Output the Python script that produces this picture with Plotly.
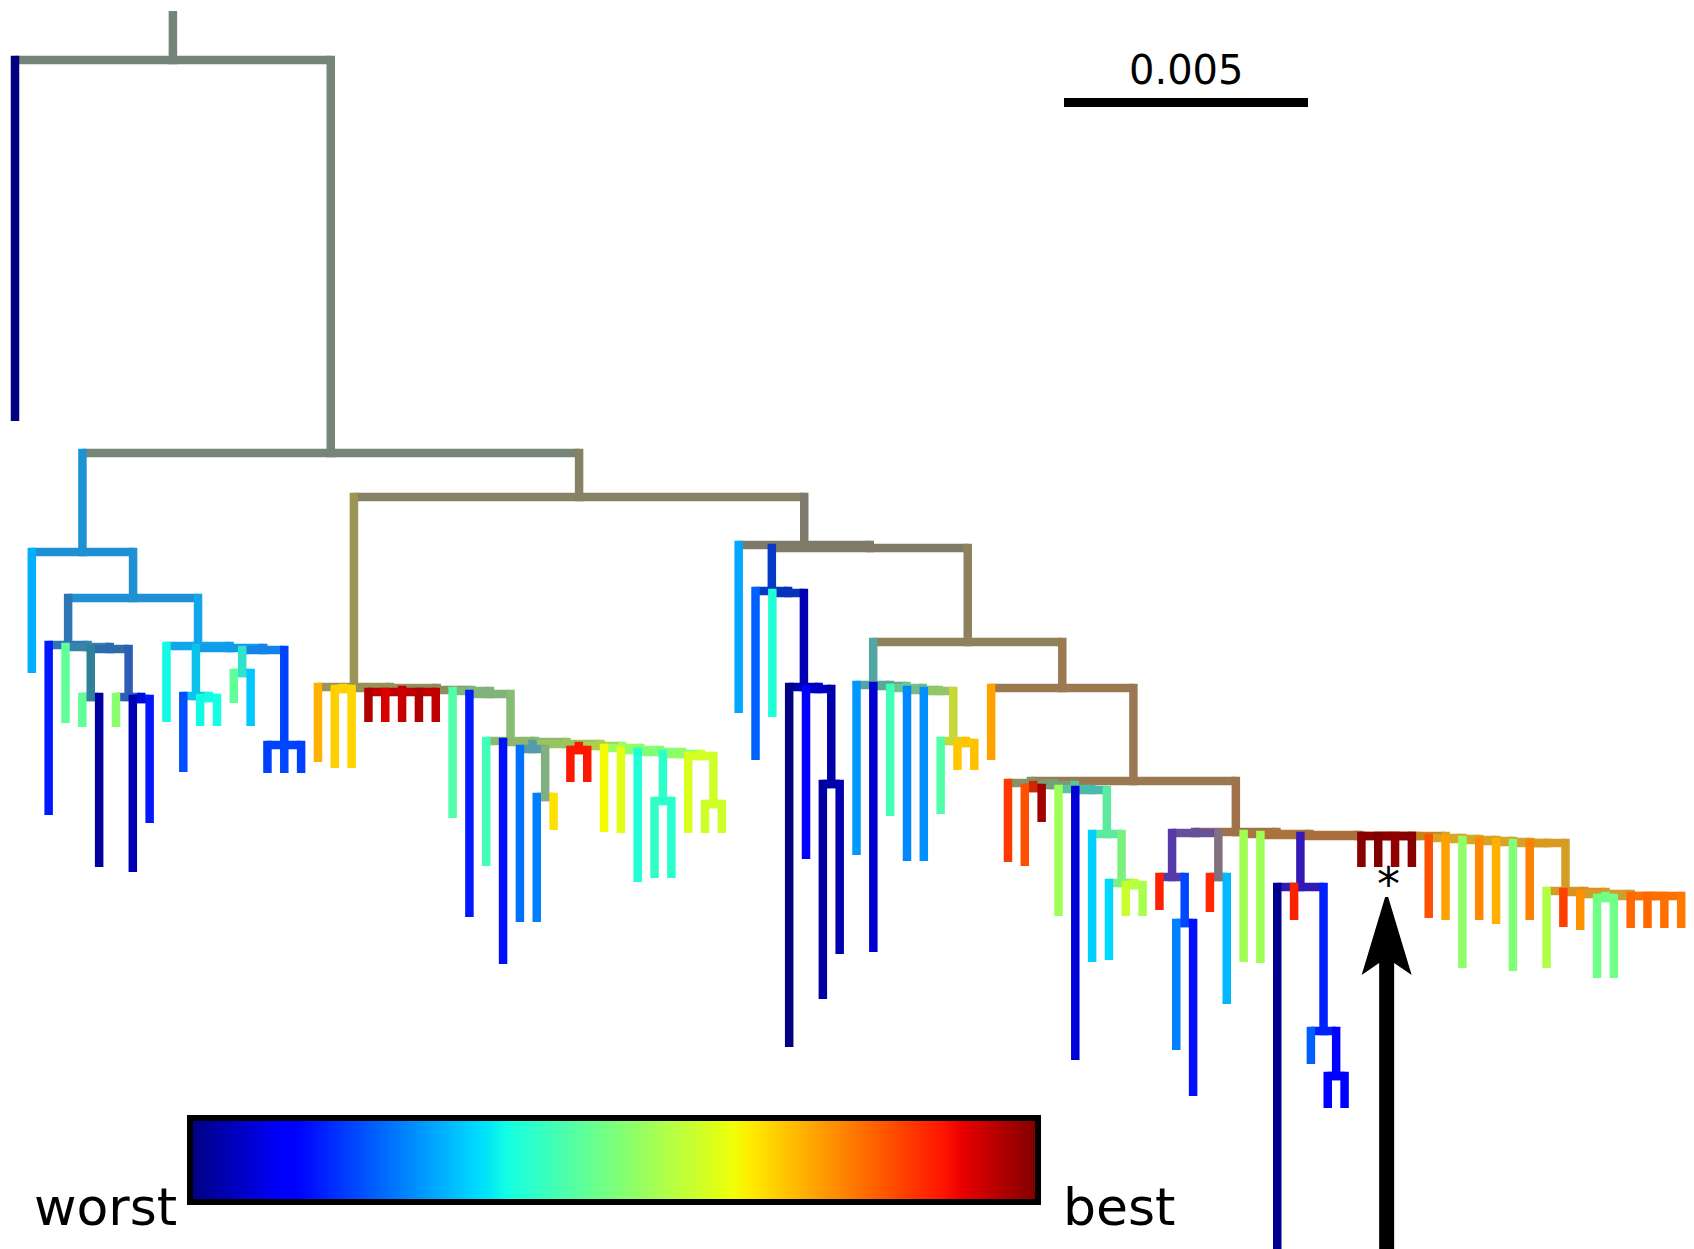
import numpy as np
import plotly.graph_objects as go

# ---------------- data ----------------
# fitness of each leaf (0 = worst, 1 = best), leaves listed left to right
leaf_fitness = [
    0.0, 0.297, 0.149, 0.467, 0.467, 0.028, 0.515, 0.045, 0.149, 0.37,
    0.203, 0.37, 0.375, 0.467, 0.321, 0.188, 0.195, 0.188, 0.724, 0.69,
    0.685, 0.958, 0.924, 0.937, 0.958, 0.944, 0.447, 0.149, 0.428, 0.141,
    0.235, 0.25, 0.672, 0.885, 0.885, 0.645, 0.623, 0.389, 0.41, 0.40,
    0.613, 0.60, 0.60, 0.29, 0.219, 0.389, 0.0, 0.115, 0.028, 0.042,
    0.274, 0.069, 0.428, 0.258, 0.266, 0.447, 0.699, 0.705, 0.74, 0.85,
    0.826, 0.972, 0.544, 0.076, 0.329, 0.337, 0.593, 0.555, 0.876, 0.25,
    0.141, 0.868, 0.305, 0.544, 0.544, 0.014, 0.876, 0.219, 0.115, 0.115,
    0.993, 1.0, 0.986, 0.993, 0.826, 0.74, 0.525, 0.766, 0.724, 0.505,
    0.775, 0.564, 0.842, 0.757, 0.486, 0.486, 0.8, 0.8, 0.791, 0.783,
]
# depth (distance from top, chart units) at the tip of every leaf
leaf_tip = [
    421, 673, 815, 723, 727, 867, 727, 872, 823, 722,
    772, 726, 726, 703, 726, 773, 773, 773, 762, 768,
    768, 722, 722, 722, 722, 722, 818, 917, 866, 964,
    922, 922, 830, 782, 782, 832, 833, 882, 878, 878,
    833, 833, 833, 713, 760, 717, 1047, 859, 999, 954,
    855, 952, 816, 861, 861, 814, 770, 770, 760, 862,
    866, 822, 916, 1060, 962, 960, 916, 916, 910, 1050,
    1096, 912, 1004, 962, 963, 1265, 920, 1064, 1108, 1108,
    867, 867, 867, 867, 918, 920, 968, 920, 924, 971,
    920, 968, 927, 930, 978, 978, 928, 928, 928, 928,
]
# parent node of every leaf
leaf_parent = [
    "root", "L", "L3", "L3a", "L3c", "L3c", "L3d", "L3e", "L3e", "L4",
    "L4b", "L4c", "L4c", "L4e", "L4e", "L4f", "L4f", "L4f", "C", "C2",
    "C2", "C4", "C4", "C4", "C4", "C4", "C5", "C6", "E", "E1",
    "F", "F1", "F1", "E4", "E4", "E5", "E6", "E7", "H", "H",
    "I", "I1", "I1", "D", "M", "M1", "NN", "NN1", "NN2", "NN2",
    "P", "P1", "P2", "P3", "P4", "R", "R1", "R1", "Q", "T",
    "T2", "T2", "T3", "T4", "V", "W", "W1", "W1", "X1", "X1a",
    "X1a", "X2", "X2", "U2", "U3", "X3", "X3", "AA", "AA1", "AA1",
    "BEST", "BEST", "BEST", "BEST", "CC", "CC1", "CC2", "CC3", "CC4", "CC5",
    "CC6", "BB", "BB1", "BB2", "BB4", "BB4", "BB5", "BB5", "BB5", "BB5",
]
# internal nodes: name, parent, depth of the node
node_name = [
    "root", "A", "L", "L2", "L3", "L3a", "L3b", "L3c", "L3d", "L3e",
    "L4", "L4a", "L4b", "L4c", "L4d", "L4e", "L4f", "B", "C", "C1",
    "C2", "C3", "C4", "C5", "C6", "E", "E1", "E2", "F", "F1",
    "E3", "E4", "E5", "E6", "E7", "E8", "H", "I", "I1", "D",
    "D1", "M", "M1", "NN", "NN1", "NN2", "K", "P", "P1", "P2",
    "P3", "P4", "R", "R1", "Q", "S", "T", "T1", "T2", "T3",
    "T4", "V", "W", "W1", "U", "U1", "X1", "X1a", "X2", "U2",
    "U3", "U4", "X3", "AA", "AA1", "U5", "BEST", "CC", "CC1", "CC2",
    "CC3", "CC4", "CC5", "CC6", "BB", "BB1", "BB2", "BB3", "BB4", "BB5",
]
node_parent = [
    None, "root", "A", "L", "L2", "L3", "L3a", "L3b", "L3b", "L3d",
    "L2", "L4", "L4a", "L4b", "L4a", "L4d", "L4d", "A", "B", "C",
    "C1", "C1", "C3", "C3", "C5", "C6", "E", "E1", "E2", "F",
    "E2", "E3", "E3", "E5", "E6", "E7", "E8", "E8", "I", "B",
    "D", "D1", "M", "M1", "NN", "NN1", "D1", "K", "P", "P1",
    "P2", "P3", "P4", "R", "K", "Q", "S", "T", "T1", "T1",
    "T3", "T4", "V", "W", "S", "U", "U1", "X1", "U1", "U",
    "U2", "U3", "U4", "X3", "AA", "U4", "U5", "U5", "CC", "CC1",
    "CC2", "CC3", "CC4", "CC5", "CC6", "BB", "BB1", "BB2", "BB3", "BB3",
]
node_depth = [
    60, 453, 552, 598, 645, 647, 649, 697, 697, 699,
    646, 648, 696, 698, 650, 673, 745, 497, 687, 688,
    689, 690, 692, 691, 694, 741, 742, 744, 749, 797,
    746, 750, 748, 750, 752, 754, 801, 756, 804, 545,
    548, 591, 593, 687, 689, 784, 642, 685, 686, 688,
    690, 691, 741, 743, 688, 781, 783, 785, 788, 789,
    790, 834, 883, 885, 832, 833, 877, 923, 877, 834,
    835, 836, 887, 1031, 1076, 836, 836, 838, 839, 840,
    841, 842, 843, 843, 891, 892, 894, 896, 898, 896,
]
root_stem_top = 11
scale_label = "0.005"

# ---------------- helpers ----------------
W_PX, H_PX = 1694, 1249
X_RANGE = [-0.8913, 99.762]
PXU = W_PX / (X_RANGE[1] - X_RANGE[0])
LINE_W = 8.5
HW = LINE_W / 2

JET = {
    "r": [(0, 0), (0.35, 0), (0.66, 1), (0.89, 1), (1, 0.5)],
    "g": [(0, 0), (0.125, 0), (0.375, 1), (0.64, 1), (0.91, 0), (1, 0)],
    "b": [(0, 0.5), (0.11, 1), (0.34, 1), (0.65, 0), (1, 0)],
}


def jet(v):
    out = []
    for ch in ("r", "g", "b"):
        xs, ys = zip(*JET[ch])
        out.append(np.interp(v, xs, ys))
    return np.array(out)


def rgb(c):
    c = np.clip(np.round(c * 255), 0, 255).astype(int)
    return "rgb(%d,%d,%d)" % tuple(c)


stops = sorted(set([p for ch in JET.values() for p, _ in ch]))
jet_scale = [[s, rgb(jet(s))] for s in stops]

depth = dict(zip(node_name, node_depth))
kids = {n: [] for n in node_name}
for i, p in enumerate(leaf_parent):
    kids[p].append(("leaf", i))
for n, p in zip(node_name, node_parent):
    if p is not None:
        kids[p].append(("node", n))

info = {}


def layout(n):
    items = []
    for kind, k in kids[n]:
        if kind == "leaf":
            items.append((k, float(k), [k], kind, k))
        else:
            layout(k)
            items.append((info[k]["min"], info[k]["x"], info[k]["leaves"], kind, k))
    items.sort(key=lambda t: t[0])
    leaves = [l for it in items for l in it[2]]
    x = (items[0][1] + items[-1][1]) / 2
    col = np.mean([jet(leaf_fitness[l]) for l in leaves], axis=0)
    info[n] = dict(x=x, min=items[0][0], leaves=leaves, color=col,
                   items=[(it[3], it[4], it[1]) for it in items])


layout("root")

segs = []
rx = info["root"]["x"]
segs.append((rx, rx, root_stem_top, depth["root"] + HW, info["root"]["color"]))


def draw(n):
    d = info[n]
    h = depth[n]
    xs = [it[2] for it in d["items"]]
    segs.append((min(xs), max(xs), h, h, d["color"]))
    for kind, k, kx in d["items"]:
        if kind == "leaf":
            segs.append((kx, kx, h - HW, leaf_tip[k], jet(leaf_fitness[k])))
        else:
            segs.append((kx, kx, h - HW, depth[k] + HW, info[k]["color"]))
            draw(k)


draw("root")

fig = go.Figure()
for x0, x1, y0, y1, c in segs:
    fig.add_trace(go.Scatter(x=[x0, x1], y=[y0, y1], mode="lines",
                             line=dict(color=rgb(c), width=LINE_W),
                             hoverinfo="skip", showlegend=False))

# colour bar (worst -> best)
fig.add_trace(go.Scatter(
    x=[0, 0], y=[-500, -500], mode="markers", showlegend=False, hoverinfo="skip",
    marker=dict(color=[0, 1], cmin=0, cmax=1, colorscale=jet_scale, size=1,
                showscale=True,
                colorbar=dict(orientation="h", xanchor="left", yanchor="top",
                              x=190 / W_PX, y=1 - 1118 / H_PX,
                              len=848, lenmode="pixels", thickness=84,
                              thicknessmode="pixels", outlinewidth=6,
                              outlinecolor="black", showticklabels=False,
                              ticks="", xpad=0, ypad=0, borderwidth=0))))

# arrow pointing at the best clade
bx = info["BEST"]["x"]


def dx(px):
    return px / PXU


arrow = (f"M {bx - dx(1.5)},{897} L {bx + dx(1.5)},{897} L {bx + dx(25)},{975} "
         f"L {bx + dx(7.5)},{963} "
         f"L {bx + dx(7.5)},{1262} L {bx - dx(7.5)},{1262} L {bx - dx(7.5)},{963} "
         f"L {bx - dx(25)},{975} Z")
shapes = [
    dict(type="path", path=arrow, xref="x", yref="y", fillcolor="black",
         line=dict(width=0)),
    dict(type="line", xref="paper", yref="paper", x0=1064 / W_PX, x1=1308 / W_PX,
         y0=1 - 102.5 / H_PX, y1=1 - 102.5 / H_PX, line=dict(color="black", width=9)),
]

font = "DejaVu Sans"
annotations = [
    dict(text=scale_label, xref="paper", yref="paper", x=1186 / W_PX, y=1 - 70 / H_PX,
         xanchor="center", yanchor="middle", showarrow=False,
         font=dict(family=font, size=40, color="black")),
    dict(text="worst", xref="paper", yref="paper", x=105 / W_PX, y=1 - 1207 / H_PX,
         xanchor="center", yanchor="middle", showarrow=False,
         font=dict(family=font, size=52, color="black")),
    dict(text="best", xref="paper", yref="paper", x=1119 / W_PX, y=1 - 1207 / H_PX,
         xanchor="center", yanchor="middle", showarrow=False,
         font=dict(family=font, size=52, color="black")),
    dict(text="*", xref="x", yref="y", x=bx + dx(2), y=884, xanchor="center",
         yanchor="middle", showarrow=False,
         font=dict(family=font, size=46, color="black")),
]

fig.update_layout(
    width=W_PX, height=H_PX, margin=dict(l=0, r=0, t=0, b=0),
    paper_bgcolor="white", plot_bgcolor="white", showlegend=False,
    xaxis=dict(range=X_RANGE, visible=False, fixedrange=True),
    yaxis=dict(range=[H_PX, 0], visible=False, fixedrange=True),
    shapes=shapes, annotations=annotations,
)
fig.write_html("out.html")
